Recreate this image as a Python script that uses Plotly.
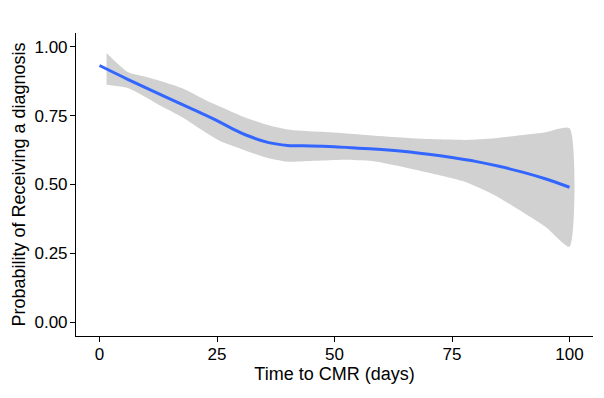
import plotly.graph_objects as go

# fitted smooth line
line_x = [0, 6, 13, 20, 25, 28, 31.7, 36, 40, 45, 50, 55, 60, 65, 70, 75, 80, 85, 90, 95, 100]
line_y = [0.932, 0.882, 0.826, 0.772, 0.732, 0.705, 0.676, 0.652, 0.642, 0.640, 0.637, 0.632, 0.627, 0.620, 0.610, 0.598, 0.584, 0.566, 0.545, 0.520, 0.490]

# confidence band
band_x = [1.5, 6, 10, 13.3, 17.5, 22.5, 26, 30, 35, 40, 46, 52, 58, 65, 72, 78, 84, 90, 95, 100]
band_upper = [0.977, 0.908, 0.890, 0.874, 0.850, 0.807, 0.780, 0.750, 0.720, 0.700, 0.692, 0.686, 0.678, 0.670, 0.664, 0.662, 0.668, 0.680, 0.690, 0.704]
band_lower = [0.862, 0.850, 0.815, 0.783, 0.745, 0.690, 0.655, 0.630, 0.600, 0.583, 0.586, 0.590, 0.585, 0.562, 0.535, 0.508, 0.462, 0.400, 0.345, 0.274]

x_ticks = [0, 25, 50, 75, 100]
y_ticks = [0.0, 0.25, 0.5, 0.75, 1.0]
y_tick_text = ["0.00", "0.25", "0.50", "0.75", "1.00"]

FAM = "Liberation Sans, Arial, sans-serif"


def f(size):
    return dict(family=FAM, size=size, color="black")


fig = go.Figure()
fig.add_trace(go.Scatter(
    x=band_x + band_x[::-1],
    y=band_upper + band_lower[::-1],
    fill="toself", mode="lines", line=dict(width=0, shape="spline", smoothing=0.6),
    fillcolor="rgba(153,153,153,0.45)", hoverinfo="skip", showlegend=False))
fig.add_trace(go.Scatter(
    x=line_x, y=line_y, mode="lines",
    line=dict(color="#3366FF", width=3, shape="spline", smoothing=0.8),
    showlegend=False))

axis_common = dict(
    showgrid=False, zeroline=False, showline=True, linecolor="black", linewidth=1.1,
    ticks="outside", ticklen=5, tickwidth=1.1, tickcolor="black",
    tickfont=f(17), automargin=False, mirror=False)

fig.update_xaxes(range=[-5, 105], tickvals=x_ticks, ticklabelstandoff=-2,
                 title=dict(text="Time to CMR (days)", font=f(18), standoff=2),
                 **axis_common)
fig.update_yaxes(range=[-0.05, 1.05], tickvals=y_ticks, ticktext=y_tick_text, ticklabelstandoff=-1,
                 title=dict(text="Probability of Receiving a diagnosis", font=f(18), standoff=4),
                 **axis_common)

# page body adds an 8px offset, so margins are reduced by that amount
fig.update_layout(
    width=604, height=398,
    margin=dict(l=68, r=19, t=25, b=70),
    plot_bgcolor="white", paper_bgcolor="white",
    font=f(18))

fig.write_html("out.html")
